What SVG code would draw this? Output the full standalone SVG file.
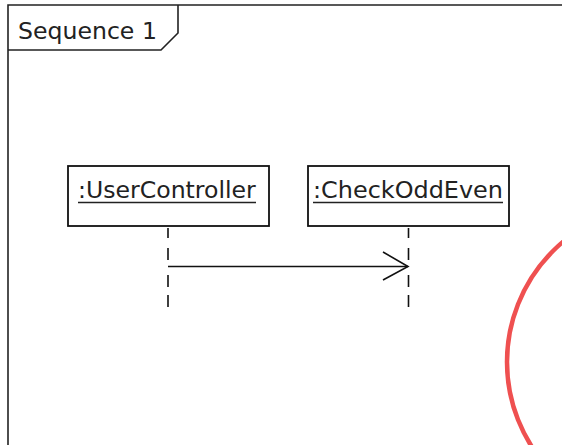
<svg xmlns="http://www.w3.org/2000/svg" width="562" height="445" viewBox="0 0 562 445">
<style>
.frame{fill:none;stroke:#222;stroke-width:1.6}
.box{fill:#fff;stroke:#111;stroke-width:1.8}
.lbl{font-family:"DejaVu Sans",sans-serif;font-size:23.6px;fill:#222}
.ul{stroke:#222;stroke-width:1.5}
.life{stroke:#111;stroke-width:1.6;fill:none}
.msg{stroke:#111;stroke-width:1.6;fill:none}
</style>
<rect width="562" height="445" fill="#fff"/>
<g id="frame">
<path class="frame" d="M8,445 V5 H562"/>
<path class="frame" d="M8,50 H161 L178,33 V5"/>
<text class="lbl" x="18" y="39">Sequence 1</text>
</g>
<g id="userController">
<rect class="box" x="68" y="166" width="201" height="60"/>
<text class="lbl" x="78" y="198">:UserController</text>
<line class="ul" x1="78" y1="202.5" x2="256" y2="202.5"/>
</g>
<g id="checkOddEven">
<rect class="box" x="308" y="166" width="201" height="60"/>
<text class="lbl" x="313" y="198" textLength="190" lengthAdjust="spacingAndGlyphs">:CheckOddEven</text>
<line class="ul" x1="313" y1="202.5" x2="503" y2="202.5"/>
</g>
<g id="connectors">
<path class="life" d="M168,228V238M168,248V260M168,275V287M168,295V307"/>
<path class="life" d="M408.5,228V238M408.5,248V260M408.5,275V287M408.5,295V307"/>
<line class="msg" x1="168" y1="266.5" x2="408" y2="266.5"/>
<path class="msg" d="M383,252 L408,266.5 L383,280"/>
</g>
<circle cx="664" cy="362" r="157" fill="none" stroke="#ef5050" stroke-width="4.5"/>
</svg>
